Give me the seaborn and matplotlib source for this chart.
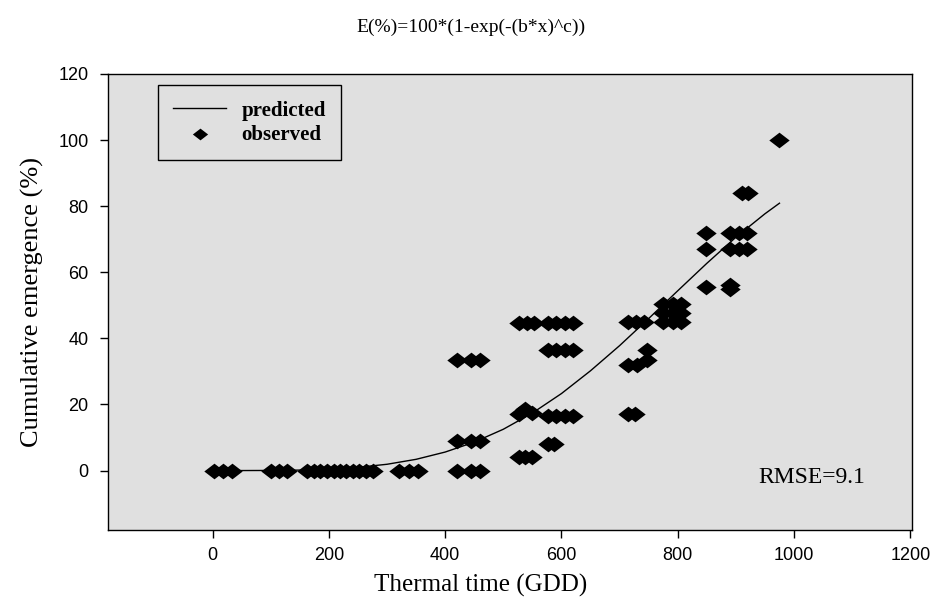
import numpy as np
import pandas as pd
import seaborn as sns
import matplotlib.pyplot as plt

# observed points (thermal time GDD, cumulative emergence %)
obs_gdd = [2, 17, 34, 100, 114, 128, 163, 174, 185, 197, 208, 219, 230, 241, 252, 264, 275,
           320, 337, 354, 421, 444, 459,
           421, 444, 459,
           421, 444, 459,
           527, 538, 549,
           527, 538, 549, 576, 591, 606, 619,
           527, 540, 553, 576, 591, 606, 619,
           576, 588,
           576, 591, 606, 619,
           715, 727,
           715, 730, 747, 747,
           715, 728, 742,
           775, 791, 806, 775, 791, 806, 775, 791, 806,
           849, 849, 849,
           890, 890,
           890, 905, 920,
           890, 905, 920,
           911, 921,
           975]
obs_emerg = [0] * 23 + \
            [9, 9, 9] + \
            [33.4, 33.4, 33.4] + \
            [4, 4, 4] + \
            [17, 18.5, 17.5, 16.5, 16.5, 16.5, 16.5] + \
            [44.5] * 7 + \
            [8, 8] + \
            [36.5, 36.5, 36.5, 36.5] + \
            [17, 17] + \
            [32, 32, 33.5, 36.5] + \
            [45, 45, 45] + \
            [45, 45, 45, 47.8, 47.8, 47.8, 50.3, 50.3, 50.3] + \
            [55.5, 67, 72] + \
            [55, 56] + \
            [67, 67, 67] + \
            [72, 72, 72] + \
            [84, 84] + \
            [100]

# predicted curve
pred_gdd = [0, 50, 100, 150, 200, 250, 300, 350, 400, 450, 500, 550, 600, 650,
            700, 750, 800, 850, 900, 950, 975]
pred_emerg = [0, 0, 0.03, 0.14, 0.42, 0.97, 1.9, 3.4, 5.6, 8.6, 12.5, 17.4, 23.3, 30.2,
              37.8, 46.0, 54.4, 62.7, 70.6, 77.7, 80.9]

obs = pd.DataFrame({'gdd': obs_gdd, 'emerg': obs_emerg})
pred = pd.DataFrame({'gdd': pred_gdd, 'emerg': pred_emerg})

serif = 'Liberation Serif'
sans = 'Liberation Sans'

fig = plt.figure(figsize=(9.41, 6.10), dpi=100)
ax = fig.add_axes([0.1148, 0.1311, 0.8544, 0.7476])
ax.set_facecolor('#e0e0e0')

# wide diamond marker
diamond = [(-1, 0), (0, 0.77), (1, 0), (0, -0.77), (-1, 0)]

sns.lineplot(data=pred, x='gdd', y='emerg', ax=ax, color='black', linewidth=1.0,
             label='predicted')
sns.scatterplot(data=obs, x='gdd', y='emerg', ax=ax, color='black', marker=diamond,
                s=215, linewidth=0, label='observed', zorder=3)

ax.set_xlim(-180, 1203)
ax.set_ylim(-18, 120)
ax.set_xticks([0, 200, 400, 600, 800, 1000, 1200])
ax.set_yticks([0, 20, 40, 60, 80, 100, 120])
ax.tick_params(axis='both', direction='out', length=6, width=1, color='black',
               labelsize=13)
ax.tick_params(axis='y', pad=8)
ax.tick_params(axis='x', pad=6)
for lab in ax.get_xticklabels() + ax.get_yticklabels():
    lab.set_fontfamily(sans)
for sp in ax.spines.values():
    sp.set_color('black')
    sp.set_linewidth(1.0)

ax.set_xlabel('Thermal time (GDD)', fontfamily=serif, fontsize=18)
ax.xaxis.set_label_coords(0.463, -0.096)
ax.set_ylabel('Cumulative emergence (%)', fontfamily=serif, fontsize=19, labelpad=10)
fig.suptitle('E(%)=100*(1-exp(-(b*x)^c))', fontfamily=serif, fontsize=14,
             x=0.5, y=0.97)

ax.text(1030, -2, 'RMSE=9.1', fontfamily=serif, fontsize=17, ha='center', va='center')

leg = ax.legend(loc='upper left', bbox_to_anchor=(0.062, 0.976), borderaxespad=0,
                frameon=True, fancybox=False, edgecolor='black', facecolor='#e0e0e0',
                framealpha=1, prop={'family': serif, 'weight': 'bold', 'size': 15},
                handlelength=2.5, handletextpad=0.75, borderpad=0.75, labelspacing=0.2,
                markerscale=0.75)
leg.get_frame().set_linewidth(1.0)

fig.savefig('out.png', dpi=100)
